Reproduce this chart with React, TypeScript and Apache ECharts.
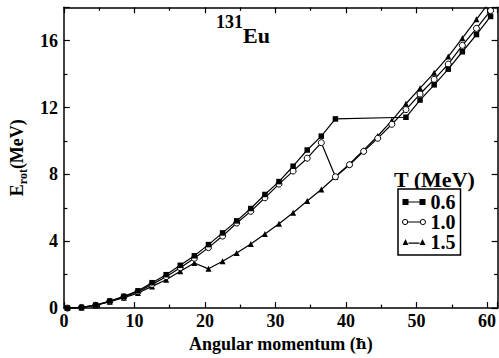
import React, { useEffect, useRef } from "react";
import * as echarts from "echarts";

const spins = [0.5, 2.5, 4.5, 6.5, 8.5, 10.5, 12.5, 14.5, 16.5, 18.5, 20.5, 22.5, 24.5, 26.5, 28.5, 30.5, 32.5, 34.5, 36.5, 38.5, 40.5, 42.5, 44.5, 46.5, 48.5, 50.5, 52.5, 54.5, 56.5, 58.5, 60.5];

// T = 0.6 MeV (no points between 38.5 and 48.5)
const spinsT06 = [0.5, 2.5, 4.5, 6.5, 8.5, 10.5, 12.5, 14.5, 16.5, 18.5, 20.5, 22.5, 24.5, 26.5, 28.5, 30.5, 32.5, 34.5, 36.5, 38.5, 48.5, 50.5, 52.5, 54.5, 56.5, 58.5, 60.5];
const erotT06 = [0, 0.04, 0.18, 0.42, 0.7, 1.03, 1.52, 2.0, 2.56, 3.13, 3.8, 4.5, 5.22, 5.96, 6.8, 7.57, 8.49, 9.46, 10.29, 11.32, 11.42, 12.45, 13.36, 14.3, 15.34, 16.37, 17.45];

// T = 1.0 MeV
const erotT10 = [0, 0.04, 0.17, 0.4, 0.67, 0.98, 1.42, 1.88, 2.42, 2.98, 3.62, 4.31, 5.09, 5.79, 6.6, 7.42, 8.2, 8.97, 9.9, 7.86, 8.58, 9.38, 10.16, 11.0, 11.88, 12.81, 13.69, 14.6, 15.72, 16.74, 17.8];

// T = 1.5 MeV
const erotT15 = [0, 0.04, 0.16, 0.38, 0.62, 0.9, 1.3, 1.7, 2.2, 2.7, 2.35, 2.8, 3.3, 3.84, 4.43, 5.05, 5.71, 6.41, 7.1, 7.86, 8.62, 9.45, 10.3, 11.22, 12.23, 13.16, 14.08, 15.05, 16.15, 17.28, 18.4];

const seriesNames = ["0.6", "1.0", "1.5"];
const xTicks = { min: 0, max: 61.5, interval: 10 };
const yTicks = { min: 0, max: 18, interval: 4 };

const FONT = "'Liberation Serif', 'Times New Roman', serif";

const pairs = (xs: number[], ys: number[]) => xs.map((x, i) => [x, ys[i]]);

export default function App() {
  const ref = useRef<HTMLDivElement>(null);

  useEffect(() => {
    if (!ref.current) return;
    const chart = echarts.init(ref.current, undefined, { renderer: "svg" });

    const axisCommon = {
      axisLine: { show: true, onZero: false, lineStyle: { color: "#000", width: 1.5 } },
      axisTick: { show: true, inside: true, length: 6, lineStyle: { color: "#000", width: 1.2 } },
      minorTick: { show: true, splitNumber: 2, length: 3.5, lineStyle: { color: "#000", width: 1.2 } },
      splitLine: { show: false },
    };

    const option: any = {
      animation: false,
      backgroundColor: "#fff",
      grid: { left: 62, top: 7.3, width: 438.7, height: 309.4, containLabel: false },
      xAxis: [
        {
          type: "value",
          position: "bottom",
          ...xTicks,
          ...axisCommon,
          axisLabel: { show: true, color: "#000", fontFamily: FONT, fontWeight: "bold", fontSize: 18, margin: 4, showMaxLabel: false },
          name: "{t|Angular momentum (}{h|ħ}{t|)}",
          nameLocation: "middle",
          nameGap: 20,
          nameTextStyle: {
            color: "#000",
            fontFamily: FONT,
            fontWeight: "bold",
            fontSize: 18,
            verticalAlign: "top",
            rich: {
              t: { fontFamily: FONT, fontWeight: "bold", fontSize: 18, color: "#000", verticalAlign: "middle", lineHeight: 20 },
              h: { fontFamily: "'DejaVu Serif', serif", fontWeight: "bold", fontSize: 15, color: "#000", verticalAlign: "middle", lineHeight: 20 },
            },
          },
        },
        {
          type: "value",
          position: "top",
          ...xTicks,
          ...axisCommon,
          axisLabel: { show: false },
        },
      ],
      yAxis: [
        {
          type: "value",
          position: "left",
          ...yTicks,
          ...axisCommon,
          axisLabel: { show: true, color: "#000", fontFamily: FONT, fontWeight: "bold", fontSize: 18, margin: 6, showMaxLabel: false },
          name: "{e|E}{s|rot}{m|(MeV)}",
          nameLocation: "middle",
          nameGap: 34,
          nameTextStyle: {
            color: "#000",
            fontFamily: FONT,
            fontWeight: "bold",
            rich: {
              e: { fontFamily: FONT, fontWeight: "bold", fontSize: 18, lineHeight: 24, verticalAlign: "middle", color: "#000" },
              s: { fontFamily: FONT, fontWeight: "bold", fontSize: 12, lineHeight: 12, verticalAlign: "bottom", color: "#000" },
              m: { fontFamily: FONT, fontWeight: "bold", fontSize: 18, lineHeight: 24, verticalAlign: "middle", color: "#000" },
            },
          },
        },
        {
          type: "value",
          position: "right",
          ...yTicks,
          ...axisCommon,
          axisLabel: { show: false },
        },
      ],
      legend: {
        orient: "vertical",
        left: 398,
        top: 189,
        padding: [3, 5, 3, 4],
        itemGap: 0,
        itemWidth: 23,
        itemHeight: 6,
        borderColor: "#000",
        borderWidth: 1.5,
        backgroundColor: "#fff",
        selectedMode: false,
        textStyle: { color: "#000", fontFamily: FONT, fontWeight: "bold", fontSize: 20, lineHeight: 20 },
        data: [
          {
            name: seriesNames[0],
            icon: "path://M0,0h6v6h-6zM6,2.4h11v1.2h-11zM17,0h6v6h-6z",
            itemStyle: { color: "#000", borderWidth: 0 },
          },
          {
            name: seriesNames[1],
            icon: "path://M0.5,3a2.5,2.5 0 1,0 5,0a2.5,2.5 0 1,0 -5,0zM5.5,3h12M17.5,3a2.5,2.5 0 1,0 5,0a2.5,2.5 0 1,0 -5,0z",
            itemStyle: { color: "#fff", borderColor: "#000", borderWidth: 1 },
          },
          {
            name: seriesNames[2],
            icon: "path://M0,6L3,0L6,6zM6,3.6h11v1.2h-11zM17,6L20,0L23,6z",
            itemStyle: { color: "#000", borderWidth: 0 },
          },
        ],
      },
      graphic: [
        {
          type: "text",
          left: 216,
          top: 13,
          style: { text: "131", fill: "#000", font: `bold 18px ${FONT}` },
        },
        {
          type: "text",
          left: 243,
          top: 24,
          style: { text: "Eu", fill: "#000", font: `bold 22px ${FONT}` },
        },
        {
          type: "text",
          left: 394,
          top: 168,
          style: { text: "T (MeV)", fill: "#000", font: `bold 22px ${FONT}` },
        },
      ],
      series: [
        {
          name: seriesNames[2],
          type: "line",
          data: pairs(spins, erotT15),
          symbol: "triangle",
          symbolSize: 6,
          lineStyle: { color: "#000", width: 1.2 },
          itemStyle: { color: "#000" },
          clip: true,
          z: 2,
        },
        {
          name: seriesNames[1],
          type: "line",
          data: pairs(spins, erotT10),
          symbol: "circle",
          symbolSize: 6,
          lineStyle: { color: "#000", width: 1.2 },
          itemStyle: { color: "#fff", borderColor: "#000", borderWidth: 1 },
          clip: true,
          z: 3,
        },
        {
          name: seriesNames[0],
          type: "line",
          data: pairs(spinsT06, erotT06),
          symbol: "rect",
          symbolSize: 5.5,
          lineStyle: { color: "#000", width: 1.2 },
          itemStyle: { color: "#000" },
          clip: true,
          z: 4,
        },
      ],
    };

    chart.setOption(option);
    return () => chart.dispose();
  }, []);

  return (
    <div
      ref={ref}
      style={{ position: "fixed", left: 0, top: 0, width: 499, height: 358, background: "#fff" }}
    />
  );
}
